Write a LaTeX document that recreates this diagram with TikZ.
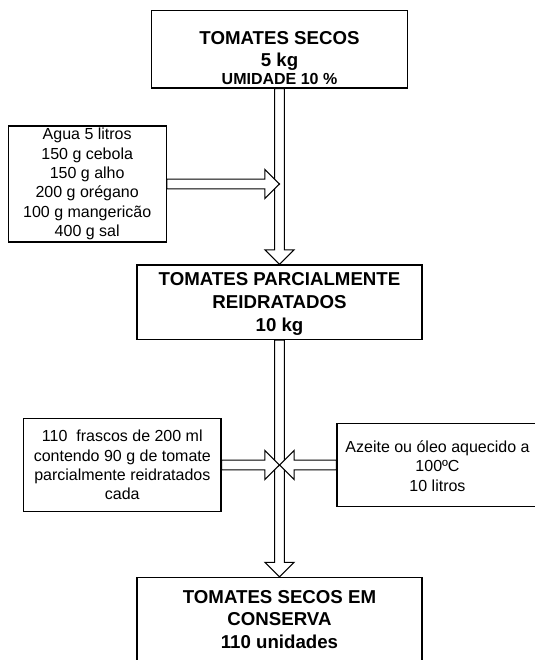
\documentclass[tikz,border=0pt]{standalone}
\usepackage{fontspec}
\setmainfont{Liberation Sans}
\usetikzlibrary{calc}
\tikzset{
  caixa/.style={draw, line width=0.8pt, inner sep=0pt, align=center, font=\fontsize{12}{14.5}\selectfont},
  titulo/.style={caixa, font=\bfseries\fontsize{14}{17}\selectfont},
  setaoca/.style={draw, line width=0.8pt, fill=white, to path={
    ($(\tikztostart)!3.6pt!90:(\tikztotarget)$)
    -- ($(\tikztotarget)!11pt!(\tikztostart)!3.6pt!-90:(\tikztostart)$)
    -- ($(\tikztotarget)!11pt!(\tikztostart)!10.9pt!-90:(\tikztostart)$)
    -- (\tikztotarget)
    -- ($(\tikztotarget)!11pt!(\tikztostart)!10.9pt!90:(\tikztostart)$)
    -- ($(\tikztotarget)!11pt!(\tikztostart)!3.6pt!90:(\tikztostart)$)
    -- ($(\tikztostart)!3.6pt!-90:(\tikztotarget)$) -- cycle}}
}
\begin{document}
\begin{tikzpicture}[x=0.75pt, y=-0.75pt]
  \useasboundingbox (0,0) rectangle (535,660);

  % caixas
  \node[caixa, minimum width=192pt, minimum height=58pt] (secos) at (279.5,49.35) {};
  \node[font=\bfseries\fontsize{14}{16.5}\selectfont, align=center, inner sep=0pt] (secostxt) at (279.5,57.9)
    {TOMATES SECOS\\5 kg\\[-2.6pt]{\fontsize{12}{14}\selectfont UMIDADE 10 \%}};
  \node[caixa, minimum width=118.5pt, minimum height=87pt] (agua) at (87.2,184)
    {Agua 5 litros\\150 g cebola\\150 g alho\\200 g orégano\\100 g mangericão\\400 g sal};
  \node[titulo, minimum width=213.75pt, minimum height=55.9pt] (parcial) at (279.5,302.25) {};
  \node[font=\bfseries\fontsize{14}{17}\selectfont, align=center, inner sep=0pt] (parcialtxt) at (279.5,304)
    {TOMATES PARCIALMENTE\\REIDRATADOS\\10 kg};
  \node[caixa, minimum width=148pt, minimum height=69.8pt] (frascos) at (122.3,465)
    {110\ \ frascos de 200 ml\\contendo 90 g de tomate\\parcialmente reidratados\\cada};
  \node[caixa, minimum width=170pt, minimum height=62.6pt] (azeite) at (450.3,465) {};
  \node[font=\fontsize{12}{14.5}\selectfont, align=center, inner sep=0pt] (azeitetxt) at (437.5,466)
    {Azeite ou óleo aquecido a\\100ºC\\10 litros};
  \node[titulo, minimum width=213.75pt, minimum height=62.6pt] (conserva) at (279.5,619.25)
    {TOMATES SECOS EM\\CONSERVA\\110 unidades};

  \coordinate (entrada) at (secos.south |- agua.east);
  \coordinate (cruz) at (parcial.south |- frascos.east);

  % setas
  \draw[setaoca] (secos.south) to (parcial.north);
  \draw[setaoca] (parcial.south) to (conserva.north);
  \draw[setaoca] (agua.east) to (entrada);
  \draw[setaoca] (frascos.east) to (cruz);
  \draw[setaoca] (azeite.west) to (cruz);
\end{tikzpicture}
\end{document}
